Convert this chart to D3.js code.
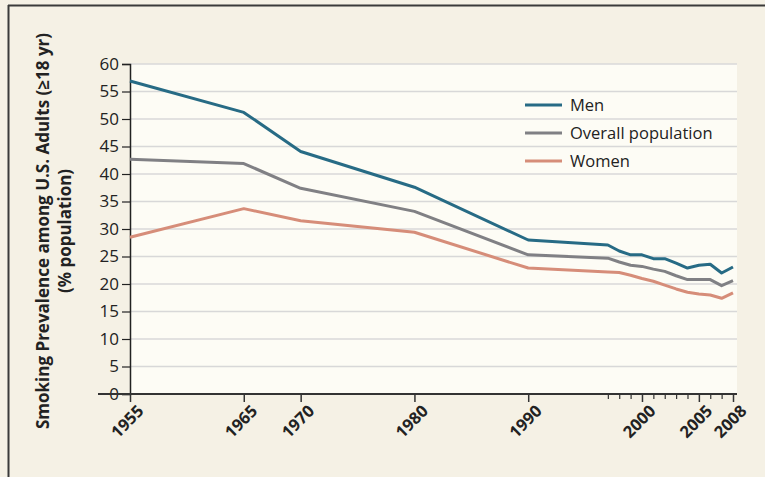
<!DOCTYPE html>
<html><head><meta charset="utf-8">
<script src="https://cdn.jsdelivr.net/npm/d3@7"></script>
<style>
html,body{margin:0;padding:0;background:#fff;}
svg{display:block;font-family:"Open Sans","DejaVu Sans",sans-serif;}
</style></head>
<body>
<svg id="chart" width="765" height="477"></svg>
<script>
const years = [1955,1965,1970,1980,1990,1997,1998,1999,2000,2001,2002,2003,2004,2005,2006,2007,2008];
const men     = [56.9,51.2,44.1,37.6,28.0,27.1,26.0,25.3,25.3,24.6,24.6,23.8,22.9,23.4,23.6,22.0,23.1];
const overall = [42.7,41.9,37.4,33.2,25.3,24.7,24.0,23.4,23.2,22.7,22.3,21.5,20.8,20.8,20.8,19.7,20.6];
const women   = [28.5,33.7,31.5,29.4,22.9,22.2,22.1,21.6,21.0,20.5,19.8,19.1,18.5,18.2,18.0,17.4,18.4];
const seriesNames = ["Men","Overall population","Women"];
const seriesColors = ["#276b85","#808084","#d68d79"];
const yTicks = [0,5,10,15,20,25,30,35,40,45,50,55,60];
const xMajorTicks = [1955,1965,1970,1980,1990,2000,2005,2008];
const xMinorTicks = [1997,1998,1999,2001,2002,2003,2004,2006,2007];
const yTitle1 = "Smoking Prevalence among U.S. Adults (\u226518 yr)";
const yTitle2 = "(% population)";

const series = [men, overall, women];
const svg = d3.select("#chart");
const W = 765, H = 477;
const FF = "'Open Sans','DejaVu Sans',sans-serif";
svg.append("rect").attr("x",0).attr("y",0).attr("width",W).attr("height",H).attr("fill","#f5f1e5");
// frame
svg.append("line").attr("x1",8).attr("x2",W).attr("y1",5.5).attr("y2",5.5).attr("stroke","#3a3a3a").attr("stroke-width",2);
svg.append("line").attr("x1",8.5).attr("x2",8.5).attr("y1",5).attr("y2",H).attr("stroke","#3a3a3a").attr("stroke-width",2);

const x = d3.scaleLinear().domain([1955,2008]).range([130,733]);
const y = d3.scaleLinear().domain([0,60]).range([394,64]);
const plotRight = 737;

svg.append("rect").attr("x",130).attr("y",y(60)).attr("width",plotRight-130).attr("height",y(0)-y(60)).attr("fill","#fdfcf5");

// gridlines
svg.append("g").selectAll("line").data(yTicks.filter(d=>d>0)).join("line")
  .attr("x1",130).attr("x2",plotRight).attr("y1",d=>y(d)).attr("y2",d=>y(d))
  .attr("stroke","#d8d8d8").attr("stroke-width",1.5);

// y axis
const yAxis = d3.axisLeft(y).tickValues(yTicks).tickSize(8).tickPadding(3).tickFormat(d3.format("d"));
const gy = svg.append("g").attr("transform","translate(130,0)").call(yAxis)
  .attr("font-size",17).attr("font-family",FF);
gy.select(".domain").attr("stroke","#222").attr("stroke-width",1.5);
gy.selectAll(".tick line").attr("stroke","#222").attr("stroke-width",1.2);
gy.selectAll(".tick text").attr("fill","#222");

// x axis line
svg.append("line").attr("x1",98).attr("x2",plotRight).attr("y1",y(0)).attr("y2",y(0)).attr("stroke","#333").attr("stroke-width",1.8);

const xAxis = d3.axisBottom(x).tickValues(xMajorTicks).tickSize(8).tickFormat(d3.format("d"));
const gx = svg.append("g").attr("transform",`translate(0,${y(0)})`).call(xAxis)
  .attr("font-size",16.5).attr("font-family",FF);
gx.select(".domain").remove();
gx.selectAll(".tick line").attr("stroke","#333").attr("stroke-width",1.5);
gx.selectAll(".tick text")
  .attr("font-weight","bold").attr("fill","#222")
  .attr("text-anchor","end").attr("dy",0)
  .attr("transform","translate(4,8) rotate(-45)")
  .attr("y",0).attr("x",0)
  .attr("dominant-baseline","hanging");
const gxm = svg.append("g").attr("transform",`translate(0,${y(0)})`)
  .call(d3.axisBottom(x).tickValues(xMinorTicks).tickSize(5).tickFormat(""));
gxm.select(".domain").remove();
gxm.selectAll(".tick line").attr("stroke","#333").attr("stroke-width",1.2);

// lines
const line = d3.line().x((d,i)=>x(years[i])).y(d=>y(d));
svg.append("g").selectAll("path").data(series).join("path")
  .attr("d",d=>line(d)).attr("fill","none")
  .attr("stroke",(d,i)=>seriesColors[i]).attr("stroke-width",3)
  .attr("stroke-linejoin","round");

// legend
const lg = svg.append("g").selectAll("g").data(seriesNames).join("g")
  .attr("transform",(d,i)=>`translate(525,${105+i*28})`);
lg.append("line").attr("x1",0).attr("x2",37).attr("y1",0).attr("y2",0)
  .attr("stroke",(d,i)=>seriesColors[i]).attr("stroke-width",3);
lg.append("text").attr("x",45).attr("y",0).attr("dy","0.35em")
  .attr("font-size",16.5).attr("fill","#222").attr("font-family",FF).text(d=>d);

// y title
const yt = svg.append("g").attr("transform","translate(49,231) rotate(-90)")
  .attr("font-size",17).attr("font-weight","bold").attr("fill","#222").attr("font-family",FF);
yt.append("text").attr("text-anchor","middle").text(yTitle1);
yt.append("text").attr("text-anchor","middle").attr("y",22).text(yTitle2);
</script>
</body></html>
